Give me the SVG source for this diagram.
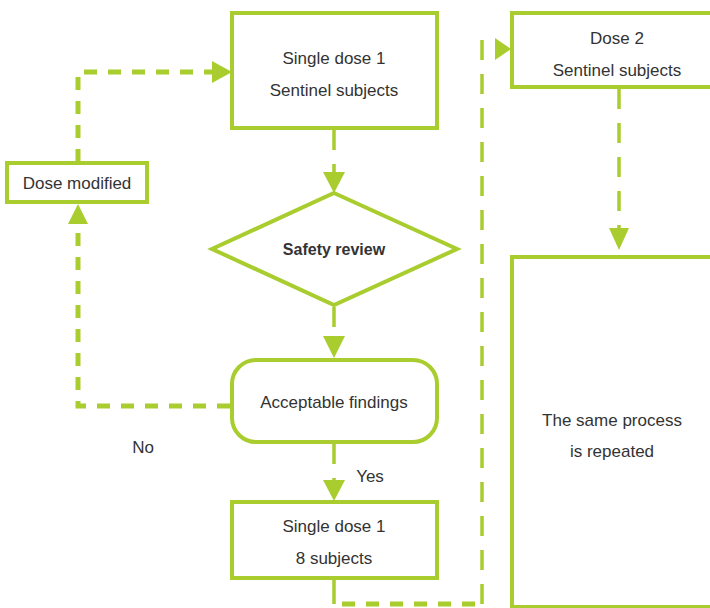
<svg xmlns="http://www.w3.org/2000/svg" width="710" height="608" viewBox="0 0 710 608">
<style>
.box{fill:#fff;stroke:#a9cd2e;stroke-width:4}
.t{font-family:"Liberation Sans",Arial,sans-serif;font-size:17px;fill:#333;text-anchor:middle}
.b{font-weight:bold;font-size:16px}
.d1{fill:none;stroke:#a9cd2e;stroke-width:5;stroke-dasharray:13 11}
.d2{fill:none;stroke:#a9cd2e;stroke-width:3.5;stroke-dasharray:20 14}
.s{fill:none;stroke:#a9cd2e;stroke-width:3.5}
.ah{fill:#a9cd2e}
</style>
<rect width="710" height="608" fill="#fff"/>
<g id="connectors">
<path class="d2" d="M334,130 V172"/>
<polygon class="ah" points="323,172 345,172 334,193"/>
<path class="d2" d="M334,307 V336"/>
<polygon class="ah" points="323,336 345,336 334,358"/>
<path class="d1" d="M230,406 H78 V232"/>
<polygon class="ah" points="68,224 88,224 78,204"/>
<path class="d1" d="M78,162 V72 H212"/>
<polygon class="ah" points="212,61 212,83 232,72"/>
<path class="d2" d="M334,444 V480"/>
<polygon class="ah" points="323,480 345,480 334,501"/>
<path class="s" d="M334,580 V604"/>
<path class="d1" d="M342,604 H482"/>
<path class="d2" d="M482,604 V40"/>
<polygon class="ah" points="495,38 495,60 511,49"/>
<path class="d2" d="M619,89 V228"/>
<polygon class="ah" points="609,228 629,228 619,250"/>
</g>
<g id="n1"><rect class="box" x="232" y="13" width="205" height="115"/>
<text class="t" x="334" y="64">Single dose 1</text><text class="t" x="334" y="96">Sentinel subjects</text></g>
<g id="n2"><polygon class="box" points="334,193 457,249 334,305 212,249"/>
<text class="t b" x="334" y="255">Safety review</text></g>
<g id="n3"><rect class="box" x="232" y="360" width="205" height="82" rx="24"/>
<text class="t" x="334" y="408">Acceptable findings</text></g>
<g id="n4"><rect class="box" x="7" y="163" width="140" height="39"/>
<text class="t" x="77" y="189">Dose modified</text></g>
<g id="n5"><rect class="box" x="232" y="502" width="205" height="76"/>
<text class="t" x="334" y="532">Single dose 1</text><text class="t" x="334" y="564">8 subjects</text></g>
<g id="n6"><rect class="box" x="512" y="13" width="210" height="74"/>
<text class="t" x="617" y="44">Dose 2</text><text class="t" x="617" y="76">Sentinel subjects</text></g>
<g id="n7"><rect class="box" x="512" y="257" width="210" height="350"/>
<text class="t" x="612" y="426">The same process</text><text class="t" x="612" y="457">is repeated</text></g>
<text class="t" x="143" y="453">No</text>
<text class="t" x="370" y="482">Yes</text>
</svg>
